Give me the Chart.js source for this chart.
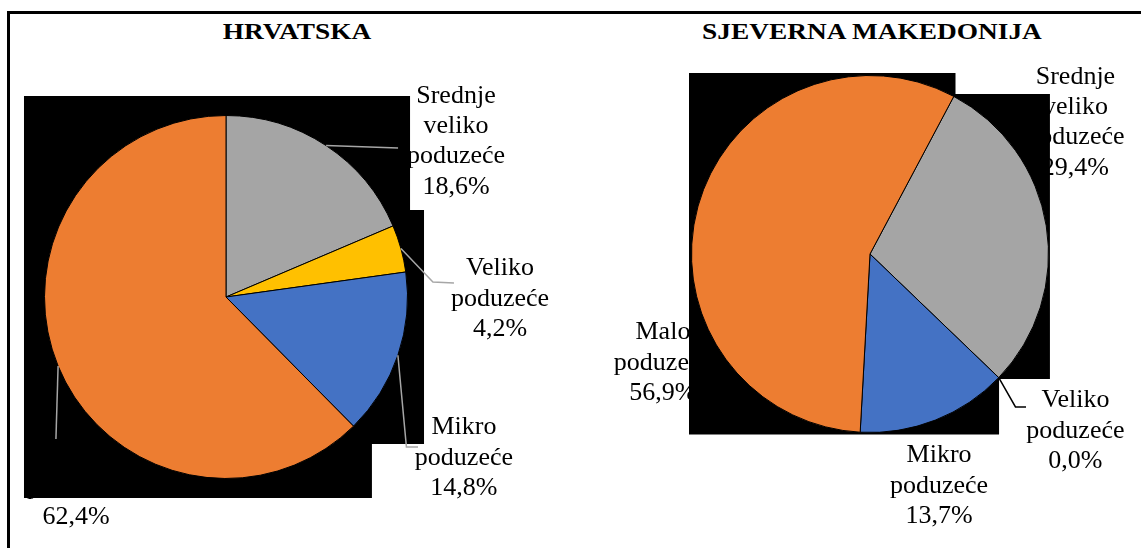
<!DOCTYPE html>
<html lang="hr">
<head>
<meta charset="utf-8">
<title>Struktura poduzeća</title>
<script src="https://cdn.jsdelivr.net/npm/chart.js@4.4.1/dist/chart.umd.min.js"></script>
<style>
  html, body { margin: 0; background: #fff; }
  body { width: 1141px; height: 548px; position: relative; overflow: hidden; font-family: "Liberation Serif", "Times New Roman", serif; }
  .frame { position: absolute; left: 7px; top: 11px; width: 1200px; height: 600px; border-left: 3px solid #000; border-top: 3px solid #000; }
  .panel-title { position: absolute; top: 19px; width: 400px; text-align: center; font-weight: bold; font-size: 24px; line-height: 24px; color: #000; transform: scaleX(1.14); }
  canvas { position: absolute; top: 0; }
</style>
</head>
<body>
<div class="frame"></div>
<div class="panel-title" style="left:97px">HRVATSKA</div>
<div class="panel-title" style="left:672px">SJEVERNA MAKEDONIJA</div>
<canvas id="hrChart" width="584" height="548" style="left:0"></canvas>
<canvas id="mkChart" width="557" height="548" style="left:584px"></canvas>
<script>
"use strict";

const categories = ["Srednje veliko poduzeće", "Veliko poduzeće", "Mikro poduzeće", "Malo poduzeće"];
const hrvatskaShares = [18.6, 4.2, 14.8, 62.4];
const makedonijaShares = [29.4, 0.0, 13.7, 56.9];
const sliceColors = ["#A5A5A5", "#FFC000", "#4472C4", "#ED7D31"];

const LABEL_FONT = '26px "Liberation Serif", "Times New Roman", serif';
const LINE_HEIGHT = 30.3;

function formatShare(value) {
  return `${value.toFixed(1).replace(".", ",")}%`;
}

// Draws the data labels, the dark backdrop behind the pie and the leader lines.
// Everything is placed relative to the pie centre, in units of its radius.
const pieDecor = {
  id: "pieDecor",
  beforeDatasetsDraw(chart, args, opts) {
    const arcs = chart.getDatasetMeta(0).data;
    const { x: cx, y: cy, outerRadius: r } = arcs[0];
    const values = chart.data.datasets[0].data;
    const ctx = chart.ctx;

    ctx.save();
    ctx.font = LABEL_FONT;
    ctx.fillStyle = "#000";
    ctx.textAlign = "center";
    ctx.textBaseline = "alphabetic";
    opts.labels.forEach((pos, i) => {
      const lines = chart.data.labels[i].split(" ").concat(formatShare(values[i]));
      const lx = cx + pos[0] * r;
      const firstLine = cy + pos[1] * r - ((lines.length - 1) * LINE_HEIGHT) / 2;
      lines.forEach((line, k) => {
        ctx.fillText(line, lx, firstLine + k * LINE_HEIGHT + 8.6);
      });
    });

    ctx.beginPath();
    opts.backdrop.forEach(([dx, dy], k) => {
      const px = cx + dx * r;
      const py = cy + dy * r;
      if (k === 0) ctx.moveTo(px, py);
      else ctx.lineTo(px, py);
    });
    ctx.closePath();
    ctx.fill();
    ctx.restore();
  },
  afterDatasetsDraw(chart, args, opts) {
    const arcs = chart.getDatasetMeta(0).data;
    const ctx = chart.ctx;

    ctx.save();
    ctx.strokeStyle = opts.leaderColor;
    ctx.lineWidth = 1.5;
    opts.leaders.forEach((path, i) => {
      if (!path) return;
      const arc = arcs[i];
      const mid = (arc.startAngle + arc.endAngle) / 2;
      const r = arc.outerRadius;
      ctx.beginPath();
      ctx.moveTo(arc.x + Math.cos(mid) * r, arc.y + Math.sin(mid) * r);
      path.forEach(([dx, dy]) => ctx.lineTo(arc.x + dx * r, arc.y + dy * r));
      ctx.stroke();
    });
    ctx.restore();
  }
};

function buildPie(canvasId, shares, rotation, padding, decor) {
  return new Chart(document.getElementById(canvasId), {
    type: "pie",
    data: {
      labels: categories,
      datasets: [
        {
          data: shares,
          rotation,
          backgroundColor: sliceColors,
          borderColor: "#000",
          borderWidth: 1
        }
      ]
    },
    options: {
      responsive: false,
      animation: false,
      events: [],
      layout: { padding },
      plugins: {
        legend: { display: false },
        tooltip: { enabled: false },
        pieDecor: decor
      }
    },
    plugins: [pieDecor]
  });
}

buildPie("hrChart", hrvatskaShares, 0, { left: 44, right: 176, top: 115, bottom: 69 }, {
  leaderColor: "#A6A6A6",
  labels: [[1.267, -0.867], [1.51, 0], [1.311, 0.876], [-0.826, 1.036]],
  leaders: [
    [[0.948, -0.821]],
    [[1.14, -0.083], [1.256, -0.077]],
    [[0.994, 0.826], [1.058, 0.826]],
    [[-0.937, 0.782]]
  ],
  backdrop: [[-1.113, -1.107], [1.014, -1.107], [1.014, -0.479], [1.091, -0.479],
             [1.091, 0.81], [0.804, 0.81], [0.804, 1.107], [-1.113, 1.107]]
});

buildPie("mkChart", makedonijaShares, 28, { left: 107, right: 92, top: 75, bottom: 115 }, {
  leaderColor: "#000",
  labels: [[1.151, -0.748], [1.151, 0.98], [0.387, 1.289], [-1.16, 0.599]],
  leaders: [null, [[0.815, 0.857], [0.874, 0.857]], null, null],
  backdrop: [[-1.014, -1.014], [0.479, -1.014], [0.479, -0.896], [1.008, -0.896],
             [1.008, 0.7], [0.723, 0.7], [0.723, 1.011], [-1.014, 1.011]]
});
</script>
</body>
</html>
